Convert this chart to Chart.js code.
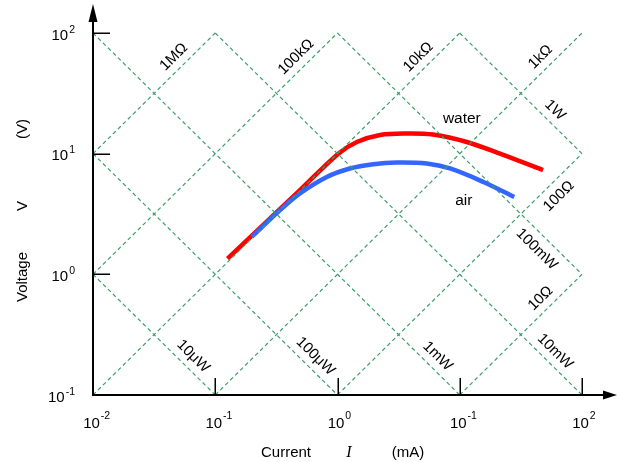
<!DOCTYPE html>
<html><head><meta charset="utf-8">
<script src="https://cdn.jsdelivr.net/npm/chart.js@4/dist/chart.umd.min.js"></script>
<style>html,body{margin:0;padding:0;background:#fff;} canvas{display:block;}</style>
</head><body>
<canvas id="c" width="617" height="462"></canvas>
<script>
// ---- data (current in mA, voltage in V) ----
const waterI = [0.126, 0.493, 1.015, 1.44, 2.23, 3.68, 6.04, 11.4, 21.3, 48.0];
const waterV = [1.35, 4.98, 10.0, 12.5, 14.3, 14.7, 14.4, 12.5, 10.0, 7.30];
const airI = [0.199, 0.339, 0.493, 0.817, 1.26, 1.96, 3.05, 5.37, 8.32, 15.6, 27.9];
const airV = [2.04, 3.40, 4.68, 6.41, 7.54, 8.18, 8.45, 8.29, 7.54, 5.83, 4.38];
const resistanceOhm = [1e6, 1e5, 1e4, 1e3, 100, 10];
const resistanceLabels = ['1MΩ', '100kΩ', '10kΩ', '1kΩ', '100Ω', '10Ω'];
const powerMW = [0.01, 0.1, 1, 10, 100, 1000];
const powerLabels = ['10μW', '100μW', '1mW', '10mW', '100mW', '1W'];
const xTickValues = [0.01, 0.1, 1, 10, 100];
const xTickExp = ['-2', '-1', '0', '-1', '2'];
const yTickValues = [0.1, 1, 10, 100];
const yTickExp = ['-1', '0', '1', '2'];
const seriesNames = ['water', 'air'];

// ---- layout / style (not data) ----
const GREEN = '#3b9e6c';
const SANS = '"Liberation Sans", Arial, sans-serif';
const resLabelSide = [1, 1, 1, 1, -1, 1];
const powLabelSide = [1, 1, 1, 1, -1, 1];
const X0 = 0.01, X1 = 100, Y0 = 0.1, Y1 = 100;

function resLine(R) {
  const k = R / 1000;
  const a = Math.max(X0, Y0 / k), b = Math.min(X1, Y1 / k);
  return [{x: a, y: k * a}, {x: b, y: k * b}];
}
function powLine(P) {
  const a = Math.max(X0, P / Y1), b = Math.min(X1, P / Y0);
  return [{x: a, y: P / a}, {x: b, y: P / b}];
}
const guideSets = [];
resistanceOhm.forEach((R, i) => guideSets.push({kind: 'R', idx: i, data: resLine(R)}));
powerMW.forEach((P, i) => guideSets.push({kind: 'P', idx: i, data: powLine(P)}));

const datasets = guideSets.map(g => ({
  type: 'line', data: g.data, borderColor: GREEN, borderWidth: 1.2,
  borderDash: [4, 3], pointRadius: 0, tension: 0, clip: false, order: 0
}));
datasets.push({
  label: seriesNames[0], data: waterI.map((v, i) => ({x: v, y: waterV[i]})),
  borderColor: '#ff0000', borderWidth: 4.5, pointRadius: 0, tension: 0.35,
  borderCapStyle: 'butt', order: 2, clip: false
});
datasets.push({
  label: seriesNames[1], data: airI.map((v, i) => ({x: v, y: airV[i]})),
  borderColor: '#3366ff', borderWidth: 4.5, pointRadius: 0, tension: 0.35,
  borderCapStyle: 'butt', order: 1, clip: false
});

function drawRotated(ctx, text, x, y, ang, font) {
  ctx.save();
  ctx.translate(x, y);
  ctx.rotate(ang);
  ctx.font = font;
  ctx.textAlign = 'center';
  ctx.textBaseline = 'middle';
  ctx.fillText(text, 0, 0);
  ctx.restore();
}

const decor = {
  id: 'decor',
  afterDatasetsDraw(chart) {
    const ctx = chart.ctx, xs = chart.scales.x, ys = chart.scales.y;
    const px = v => xs.getPixelForValue(v), py = v => ys.getPixelForValue(v);
    const left = px(X0), right = px(X1), top = py(Y1), bottom = py(Y0);
    ctx.save();
    ctx.fillStyle = '#000';
    // guide labels
    guideSets.forEach(g => {
      const p0 = g.data[0], p1 = g.data[1];
      const ang = Math.atan2(py(p1.y) - py(p0.y), px(p1.x) - px(p0.x));
      let fx, fy, side, dist;
      if (g.kind === 'R') {
        const k = resistanceOhm[g.idx] / 1000;
        if (p1.y >= Y1 * 0.999) { const V = Math.pow(10, 1.73); fx = V / k; fy = V; }
        else { const I = Math.pow(10, 1.73); fx = I; fy = k * I; }
        side = resLabelSide[g.idx];
      } else {
        const P = powerMW[g.idx];
        if (p1.x < X1 * 0.999) { const V = Math.pow(10, -0.75); fx = P / V; fy = V; }
        else { const I = Math.pow(10, 1.71); fx = I; fy = P / I; }
        side = powLabelSide[g.idx];
      }
      dist = side > 0 ? 12 : 14;
      const ux = Math.sin(ang), uy = -Math.cos(ang);
      const cx = px(fx) + side * dist * ux, cy = py(fy) + side * dist * uy;
      const txt = g.kind === 'R' ? resistanceLabels[g.idx] : powerLabels[g.idx];
      drawRotated(ctx, txt, cx, cy, ang, '15px ' + SANS);
    });
    // series labels
    ctx.font = '15.5px ' + SANS;
    ctx.textAlign = 'center'; ctx.textBaseline = 'middle';
    ctx.fillText(seriesNames[0], px(10.4), py(19.3));
    ctx.fillText(seriesNames[1], px(10.8), py(4.04));

    // axes
    ctx.strokeStyle = '#000'; ctx.lineWidth = 2;
    ctx.beginPath();
    ctx.moveTo(left, bottom); ctx.lineTo(left, 16);
    ctx.moveTo(left - 1, bottom); ctx.lineTo(606, bottom);
    ctx.stroke();
    ctx.beginPath();
    ctx.moveTo(left, 4); ctx.lineTo(left - 4.5, 22); ctx.lineTo(left + 4.5, 22); ctx.closePath();
    ctx.fill();
    ctx.beginPath();
    ctx.moveTo(617, bottom); ctx.lineTo(603, bottom - 4.5); ctx.lineTo(603, bottom + 4.5); ctx.closePath();
    ctx.fill();
    // ticks
    ctx.lineWidth = 1.5;
    ctx.beginPath();
    yTickValues.forEach(v => { if (v > Y0) { const y = Math.round(py(v)) + 0.25; ctx.moveTo(left, y); ctx.lineTo(left + 17, y); } });
    xTickValues.forEach(v => { if (v > X0) { const x = Math.round(px(v)) + 0.25; ctx.moveTo(x, bottom); ctx.lineTo(x, bottom - 17); } });
    ctx.stroke();
    // tick labels
    ctx.textBaseline = 'alphabetic';
    yTickValues.forEach((v, i) => {
      const y = py(v);
      ctx.font = '15px ' + SANS; const wb = ctx.measureText('10').width;
      ctx.font = '10.5px ' + SANS; const we = ctx.measureText(yTickExp[i]).width;
      const x0 = 75 - wb - we - 1;
      ctx.textAlign = 'left';
      ctx.font = '15px ' + SANS; ctx.fillText('10', x0, y + 6.5);
      ctx.font = '10.5px ' + SANS; ctx.fillText(yTickExp[i], x0 + wb + 1, y - 0.5);
    });
    xTickValues.forEach((v, i) => {
      const x = px(v);
      ctx.font = '15px ' + SANS; const wb = ctx.measureText('10').width;
      const x0 = x - 1.5 - wb / 2;
      ctx.textAlign = 'left';
      ctx.fillText('10', x0, bottom + 32.5);
      ctx.font = '10.5px ' + SANS; ctx.fillText(xTickExp[i], x0 + wb + 1, bottom + 24);
    });
    // axis titles
    ctx.textAlign = 'center'; ctx.textBaseline = 'middle';
    ctx.font = '15px ' + SANS;
    ctx.fillText('Current', 286, 453);
    ctx.fillText('(mA)', 408, 453);
    ctx.font = 'italic 16px "Liberation Serif", "Times New Roman", serif';
    ctx.fillText('I', 349, 453);
    drawRotated(ctx, 'Voltage', 22.5, 277, -Math.PI / 2, '15px ' + SANS);
    drawRotated(ctx, 'V', 22.5, 206, -Math.PI / 2, '15px ' + SANS);
    drawRotated(ctx, '(V)', 22.5, 129, -Math.PI / 2, '15px ' + SANS);
    ctx.restore();
  }
};

new Chart(document.getElementById('c'), {
  type: 'line',
  data: {datasets},
  options: {
    responsive: false, animation: false, events: [],
    layout: {padding: {left: 93, right: 35, top: 33, bottom: 67}},
    plugins: {legend: {display: false}, tooltip: {enabled: false}},
    scales: {
      x: {type: 'logarithmic', min: X0, max: X1, display: false},
      y: {type: 'logarithmic', min: Y0, max: Y1, display: false}
    }
  },
  plugins: [decor]
});
</script>
</body></html>
